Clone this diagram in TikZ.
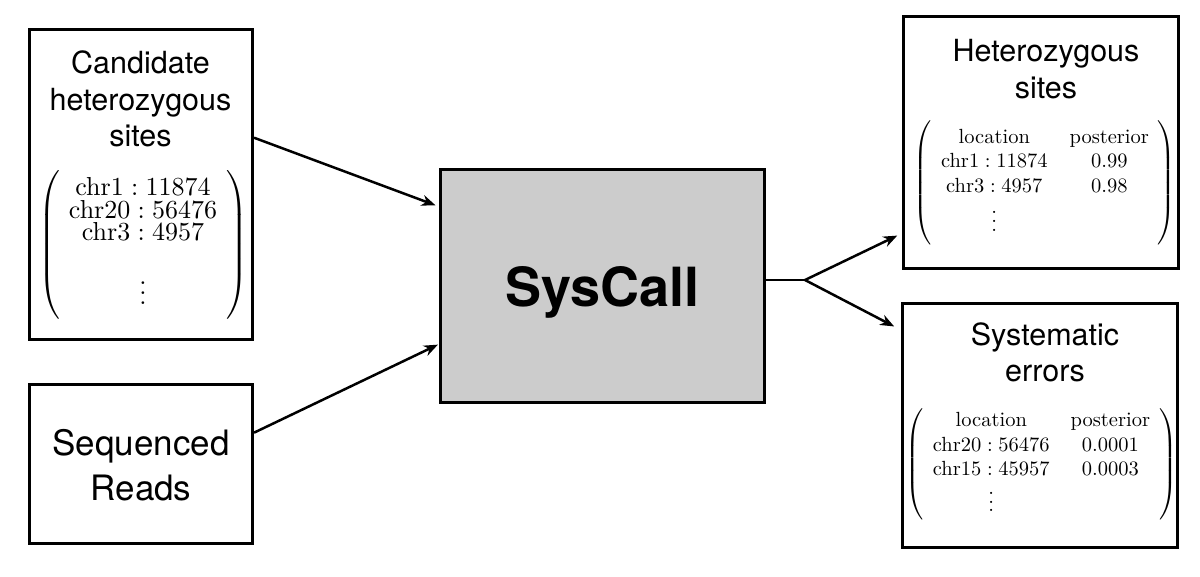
\documentclass[tikz,border=0pt]{standalone}
\usepackage{exscale}
\usepackage{fontspec}
\usetikzlibrary{arrows.meta}
\newfontfamily\hv{TeX Gyre Heros}
\newfontfamily\cmten{lmroman10-regular.otf}
\definecolor{boxgray}{RGB}{204,204,204}
\newcommand\myvdots[2]{\vbox{\cmten\baselineskip#2\lineskiplimit0pt\kern#1\hbox{.}\hbox{.}\hbox{.}}}
\newcommand\loc[2]{\mbox{\cmten #1\hspace{0.2778em}:\hspace{0.2778em}#2}}
\newcommand\tx[1]{\mbox{\cmten #1}}
\tikzset{
  box/.style={draw=black, line width=3pt, inner sep=0pt},
  ttl/.style={font={\hv\fontsize{30.5}{36}\selectfont}, anchor=base, inner sep=0pt},
  bigttl/.style={font={\hv\fontsize{35}{42}\selectfont}, anchor=base, inner sep=0pt},
  mat/.style={inner sep=0pt, anchor=center},
  arr/.style={line width=2.5pt, -{Stealth[length=14pt,width=11pt]}},
  link/.style={line width=2.5pt}
}
\begin{document}
\begin{tikzpicture}[x=1pt,y=-1pt]
\path[use as bounding box, fill=white] (0,0) rectangle (1200,576);

% boxes
\node[box, minimum width=223.2pt, minimum height=310pt] (cand) at (140.9,184) {};
\node[box, minimum width=223.2pt, minimum height=159pt] (seq) at (140.9,463.5) {};
\node[box, fill=boxgray, minimum width=323.3pt, minimum height=233pt] (sys) at (602.4,285.5) {};
\node[box, minimum width=274.5pt, minimum height=252.3pt] (het) at (1040.8,142.2) {};
\node[box, minimum width=275pt, minimum height=243.5pt] (err) at (1040,425.3) {};

% titles
\node[ttl] (candt1) at (140.5,73.3) {Candidate};
\node[ttl] (candt2) at (140.5,110) {heterozygous};
\node[ttl] (candt3) at (140.5,146.7) {sites};
\node[bigttl] (seqt1) at (141,455) {Sequenced};
\node[bigttl] (seqt2) at (141,500) {Reads};
\node[font={\hv\bfseries\fontsize{54}{60}\selectfont}, anchor=base, inner sep=0pt] (syst) at (602.4,306.7) {SysCall};
\node[ttl] (hett1) at (1046,61.7) {Heterozygous};
\node[ttl] (hett2) at (1046,98.3) {sites};
\node[ttl] (errt1) at (1045,345) {Systematic};
\node[ttl] (errt2) at (1045,381.7) {errors};

% matrices
\node[mat] (candm) at (143,244.7) {\fontsize{26}{22.5}\selectfont\arraycolsep=9pt\delimitershortfall=-8pt
$\left(\begin{array}{c}
\loc{chr1}{11874}\\[-2.3pt]
\loc{chr20}{56476}\\[-2.3pt]
\loc{chr3}{4957}\\
\myvdots{34.8pt}{10pt}
\end{array}\right)$};

\node[mat] (hetm) at (1045,182.6) {\fontsize{20.5}{24.5}\selectfont\delimitershortfall=0pt
$\left(\begin{array}{@{\hspace{9pt}}c@{\hspace{22pt}}c@{\hspace{9pt}}}
\tx{location} & \tx{posterior}\\
\loc{chr1}{11874} & \tx{0.99}\\
\loc{chr3}{4957} & \tx{0.98}\\
\myvdots{12pt}{9pt} &
\end{array}\right)$};

\node[mat] (errm) at (1041.5,464.4) {\fontsize{20.5}{24.5}\selectfont\delimitershortfall=0pt
$\left(\begin{array}{@{\hspace{9pt}}c@{\hspace{21pt}}c@{\hspace{9pt}}}
\tx{location} & \tx{posterior}\\
\loc{chr20}{56476} & \tx{0.0001}\\
\loc{chr15}{45957} & \tx{0.0003}\\
\myvdots{9.6pt}{8.5pt} &
\end{array}\right)$};

% connectors
\coordinate (fork) at (805,280);
\draw[arr, shorten >=4pt] ([yshift=46.3pt]cand.east) -- ([yshift=78.8pt]sys.west);
\draw[arr, shorten >=1.5pt] ([yshift=30.8pt]seq.east) -- ([yshift=-58.5pt]sys.west);
\draw[link] ([yshift=5.5pt]sys.east) -- (fork);
\draw[arr, shorten >=5.3pt] (fork) -- ([yshift=-91.1pt]het.west);
\draw[arr, shorten >=7.7pt] (fork) -- ([yshift=95.3pt]err.west);
\end{tikzpicture}
\end{document}
